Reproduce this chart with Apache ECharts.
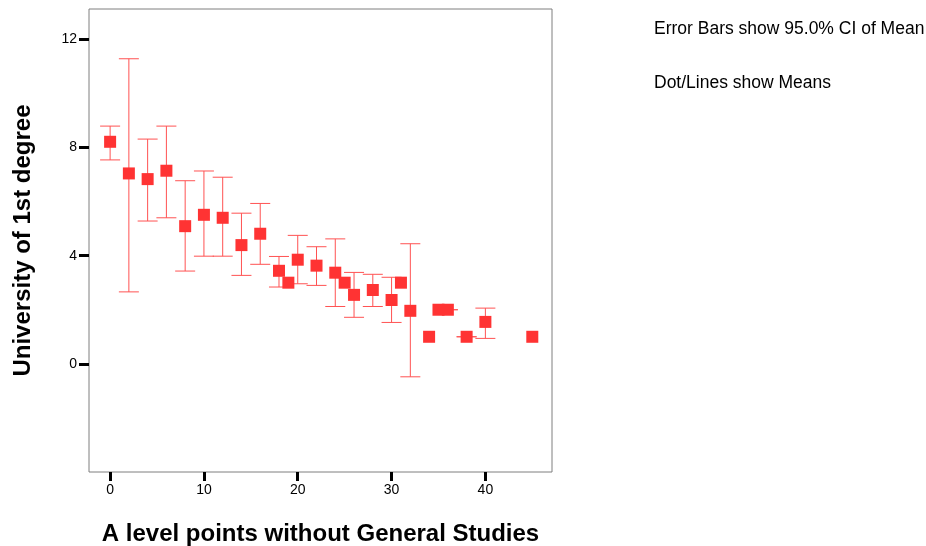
<!DOCTYPE html>
<html>
<head>
<meta charset="utf-8">
<script src="https://cdn.jsdelivr.net/npm/echarts@6/dist/echarts.min.js"></script>
<style>html,body{margin:0;padding:0;background:#fff;}#c{width:926px;height:546px;}</style>
</head>
<body>
<div id="c"></div>
<script>
var xValues = [0, 2, 4, 6, 8, 10, 12, 14, 16, 18, 19, 20, 22, 24, 25, 26, 28, 30, 31, 32, 34, 35, 36, 38, 40, 45];
var means   = [8.21, 7.04, 6.83, 7.14, 5.09, 5.51, 5.40, 4.39, 4.81, 3.44, 3.0, 3.85, 3.63, 3.37, 3.0, 2.55, 2.73, 2.36, 3.0, 1.96, 1.0, 2.0, 2.0, 1.0, 1.55, 1.0];
var ciLow   = [7.54, 2.66, 5.28, 5.40, 3.43, 3.98, 3.98, 3.27, 3.68, 2.84, null, 2.96, 2.90, 2.12, null, 1.72, 2.12, 1.53, null, -0.48, null, null, 2.0, 1.0, 0.94, null];
var ciHigh  = [8.79, 11.28, 8.31, 8.79, 6.77, 7.13, 6.90, 5.57, 5.93, 3.97, null, 4.75, 4.33, 4.62, null, 3.38, 3.31, 3.20, null, 4.44, null, null, 2.0, 1.0, 2.06, null];
var xTicks = [0, 10, 20, 30, 40];
var yTicks = [0, 4, 8, 12];

var pointData = xValues.map(function (x, i) { return [x, means[i]]; });
var barData = [];
xValues.forEach(function (x, i) {
  if (ciLow[i] !== null && ciHigh[i] !== null) barData.push([x, ciLow[i], ciHigh[i]]);
});

var chart = echarts.init(document.getElementById('c'));
var font = '"Liberation Sans", Arial, sans-serif';
chart.setOption({
  animation: false,
  backgroundColor: '#fff',
  grid: { left: 89, right: 374, top: 9, bottom: 74, outerBoundsMode: 'none', containLabel: false, show: true, borderColor: '#7f7f7f', borderWidth: 1, backgroundColor: 'transparent' },
  xAxis: {
    type: 'value', min: -2.25, max: 47.1,
    name: 'A level points without General Studies', nameLocation: 'middle', nameGap: 50,
    nameTextStyle: { fontFamily: font, fontSize: 24, fontWeight: 'bold', color: '#000' },
    axisLine: { show: false, onZero: false },
    axisTick: { show: true, customValues: xTicks, length: 9, lineStyle: { color: '#000', width: 3 } },
    axisLabel: { customValues: xTicks, margin: 11, fontFamily: font, fontSize: 14, color: '#000' },
    splitLine: { show: false }
  },
  yAxis: {
    type: 'value', min: -4, max: 13.12,
    name: 'University of 1st degree', nameLocation: 'middle', nameGap: 54,
    nameTextStyle: { fontFamily: font, fontSize: 24, fontWeight: 'bold', color: '#000' },
    axisLine: { show: false, onZero: false },
    axisTick: { show: true, customValues: yTicks, length: 10, lineStyle: { color: '#000', width: 3 } },
    axisLabel: { customValues: yTicks, margin: 12, fontFamily: font, fontSize: 14, color: '#000' },
    splitLine: { show: false }
  },
  graphic: [
    { type: 'text', left: 654, top: 20, style: { text: 'Error Bars show 95.0% CI of Mean', fontFamily: font, fontSize: 17.5, fill: '#000' } },
    { type: 'text', left: 654, top: 74, style: { text: 'Dot/Lines show Means', fontFamily: font, fontSize: 17.5, fill: '#000' } }
  ],
  series: [
    {
      type: 'custom',
      data: barData,
      z: 2,
      renderItem: function (params, api) {
        var x = api.value(0);
        var lo = api.coord([x, api.value(1)]);
        var hi = api.coord([x, api.value(2)]);
        var hw = 10;
        var st = { stroke: '#ff5252', lineWidth: 1 };
        return {
          type: 'group',
          children: [
            { type: 'line', shape: { x1: lo[0], y1: lo[1], x2: hi[0], y2: hi[1] }, style: st },
            { type: 'line', shape: { x1: hi[0] - hw, y1: hi[1], x2: hi[0] + hw, y2: hi[1] }, style: st },
            { type: 'line', shape: { x1: lo[0] - hw, y1: lo[1], x2: lo[0] + hw, y2: lo[1] }, style: st }
          ]
        };
      }
    },
    {
      type: 'scatter',
      data: pointData,
      z: 3,
      symbol: 'rect',
      symbolSize: 12,
      itemStyle: { color: '#ff3333', opacity: 1 }
    }
  ]
});
</script>
</body>
</html>
